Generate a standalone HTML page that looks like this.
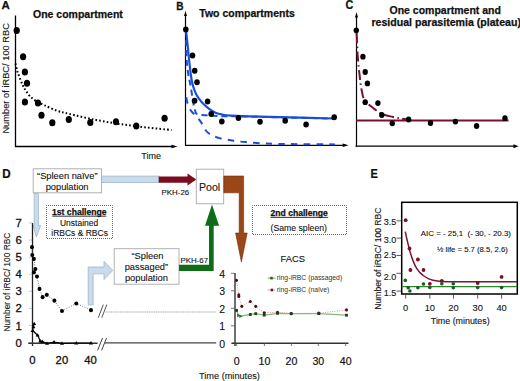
<!DOCTYPE html>
<html><head><meta charset="utf-8"><style>
html,body{margin:0;padding:0;background:#fff;width:520px;height:381px;overflow:hidden}
svg{display:block}
text{font-family:"Liberation Sans",sans-serif;fill:#111;stroke:#222;stroke-width:0.12px}
.b{font-weight:bold;stroke:#111;stroke-width:0.25px}
.h{stroke:#111;stroke-width:0.3px}
.h2{stroke:#111;stroke-width:0.18px}
.l{stroke:none;fill:#333}
</style></head><body>
<svg width="520" height="381" viewBox="0 0 520 381">
<text x="1.5" y="9" class="b" font-size="11.5">A</text>
<text x="33" y="18.2" class="b" font-size="10.5">One compartment</text>
<line x1="15.5" y1="15.5" x2="15.5" y2="147" stroke="#000" stroke-width="1.3"/>
<line x1="15" y1="146.5" x2="173" y2="146.5" stroke="#000" stroke-width="1.3"/>
<path d="M177.5,146.5 L171.5,144.8 L171.5,148.2 Z" fill="#000"/>
<text x="141.3" y="158.7" font-size="9">Time</text>
<text transform="translate(9.2,133.6) rotate(-90)" font-size="9.3">Number of iRBC/ 100 RBC</text>
<path d="M15.5,63.6 C15.8,64.8 16.5,68.5 17.1,70.7 C17.8,72.9 18.5,74.6 19.4,77.0 C20.3,79.4 21.6,82.7 22.6,84.9 C23.7,87.1 24.4,88.4 25.7,90.4 C27.0,92.4 28.6,94.9 30.4,96.7 C32.2,98.5 34.3,100.0 36.7,101.4 C39.1,102.8 41.2,103.7 44.6,105.3 C48.0,106.9 53.1,109.4 57.2,110.8 C61.3,112.2 62.8,112.3 69.0,113.8 C75.2,115.3 86.2,118.0 94.7,119.7 C103.2,121.4 111.6,122.7 120.0,124.0 C128.4,125.3 136.4,126.3 145.0,127.3 C153.6,128.3 167.1,129.6 171.5,130.0" fill="none" stroke="#000" stroke-width="2" stroke-dasharray="1.6 2.2"/>
<ellipse cx="16.7" cy="30.6" rx="3.1" ry="3.5" fill="#000"/><ellipse cx="23.1" cy="56.7" rx="3.1" ry="3.5" fill="#000"/><ellipse cx="24.9" cy="72.0" rx="3.1" ry="3.5" fill="#000"/><ellipse cx="27.0" cy="83.3" rx="3.1" ry="3.5" fill="#000"/><ellipse cx="24.9" cy="102.0" rx="3.1" ry="3.5" fill="#000"/><ellipse cx="38.0" cy="103.0" rx="3.1" ry="3.5" fill="#000"/><ellipse cx="41.5" cy="115.2" rx="3.1" ry="3.5" fill="#000"/><ellipse cx="52.3" cy="122.7" rx="3.1" ry="3.5" fill="#000"/><ellipse cx="68.8" cy="119.5" rx="3.1" ry="3.5" fill="#000"/><ellipse cx="90.3" cy="122.5" rx="3.1" ry="3.5" fill="#000"/><ellipse cx="116.0" cy="121.8" rx="3.1" ry="3.5" fill="#000"/><ellipse cx="136.3" cy="126.0" rx="3.1" ry="3.5" fill="#000"/><ellipse cx="164.6" cy="118.3" rx="3.1" ry="3.5" fill="#000"/>
<text transform="translate(176.2,10.1) scale(0.86,1)" class="b" font-size="11.8">B</text>
<text x="199.3" y="17.3" class="b" font-size="10.5">Two compartments</text>
<line x1="185.5" y1="14" x2="185.5" y2="146" stroke="#000" stroke-width="1.2"/>
<path d="M185.5,10.8 L184,16 L187,16 Z" fill="#000"/>
<line x1="185.5" y1="145.3" x2="344" y2="145.3" stroke="#000" stroke-width="1.3"/>
<path d="M348.5,145.3 L342.7,143.6 L342.7,147 Z" fill="#000"/>
<path d="M186.0,30.0 C186.2,32.0 186.9,37.8 187.3,42.0 C187.7,46.2 188.2,51.0 188.6,55.0 C189.0,59.0 189.4,62.5 189.8,66.0 C190.2,69.5 190.6,73.0 191.0,76.0 C191.4,79.0 191.9,81.7 192.5,84.0 C193.1,86.3 193.8,88.3 194.4,90.0 C195.0,91.7 195.6,93.0 196.2,94.2 C196.8,95.4 196.8,95.6 197.9,97.1 C199.0,98.6 200.6,101.0 202.5,103.0 C204.4,105.0 207.0,107.2 209.2,108.8 C211.4,110.4 213.3,111.7 215.5,112.7 C217.7,113.7 220.1,114.2 222.6,114.7 C225.1,115.2 224.2,115.3 230.4,115.6 C236.6,115.9 250.1,116.3 260.0,116.6 C269.9,116.9 277.7,117.1 290.0,117.4 C302.3,117.7 326.7,118.3 334.0,118.5" fill="none" stroke="#1a4fd6" stroke-width="2.2"/>
<path d="M186.2,40.0 C186.2,42.5 186.3,50.7 186.5,55.0 C186.7,59.3 186.8,62.4 187.2,66.0 C187.6,69.6 188.2,73.8 188.7,76.6 C189.2,79.4 189.5,80.4 190.0,83.0 C190.5,85.6 191.1,89.2 191.6,92.0 C192.1,94.8 192.4,97.4 192.8,100.0 C193.2,102.6 193.8,105.5 194.2,107.4 C194.6,109.3 195.1,110.5 195.4,111.5 C195.8,112.5 195.8,113.1 196.3,113.6 C196.8,114.1 197.5,114.1 198.5,114.3 C199.5,114.5 200.6,114.8 202.5,115.0 C204.4,115.2 207.7,115.4 210.0,115.6 C212.3,115.8 214.2,115.8 216.3,115.9 C218.4,116.0 220.2,116.2 222.6,116.2 C224.9,116.2 224.2,116.1 230.4,116.2 C236.6,116.3 250.1,116.7 260.0,116.9 C269.9,117.1 277.7,117.3 290.0,117.6 C302.3,117.9 326.7,118.4 334.0,118.6" fill="none" stroke="#1a4fd6" stroke-width="2" stroke-dasharray="6 4"/>
<path d="M186.3,97.3 C186.5,98.3 186.9,101.4 187.6,103.5 C188.3,105.6 189.1,107.8 190.3,109.7 C191.5,111.6 193.1,113.0 194.7,114.8 C196.2,116.5 198.2,118.4 199.6,120.2 C201.0,122.0 202.0,123.8 203.0,125.5 C204.0,127.2 204.6,129.0 205.8,130.5 C207.0,132.0 208.4,133.2 210.4,134.4 C212.4,135.6 214.2,136.6 218.0,137.7 C221.8,138.8 228.4,140.0 233.5,140.8 C238.6,141.6 243.7,141.9 248.8,142.3 C253.9,142.8 259.8,143.2 264.2,143.5 C268.6,143.8 270.7,143.7 275.0,143.8 C279.3,143.9 280.0,144.0 290.0,144.1 C300.0,144.2 327.5,144.3 335.0,144.4" fill="none" stroke="#1a4fd6" stroke-width="2" stroke-dasharray="6.5 6.2"/>
<ellipse cx="185.8" cy="29.6" rx="2.8" ry="3.0" fill="#000"/><ellipse cx="192.5" cy="55.4" rx="2.8" ry="3.0" fill="#000"/><ellipse cx="194.7" cy="70.7" rx="2.8" ry="3.0" fill="#000"/><ellipse cx="197.0" cy="82.3" rx="2.8" ry="3.0" fill="#000"/><ellipse cx="194.6" cy="100.8" rx="2.8" ry="3.0" fill="#000"/><ellipse cx="207.6" cy="101.6" rx="2.8" ry="3.0" fill="#000"/><ellipse cx="211.2" cy="114.1" rx="2.8" ry="3.0" fill="#000"/><ellipse cx="221.8" cy="121.6" rx="2.8" ry="3.0" fill="#000"/><ellipse cx="238.4" cy="118.1" rx="2.8" ry="3.0" fill="#000"/><ellipse cx="260.0" cy="121.8" rx="2.8" ry="3.0" fill="#000"/><ellipse cx="285.2" cy="120.8" rx="2.8" ry="3.0" fill="#000"/><ellipse cx="306.1" cy="124.5" rx="2.8" ry="3.0" fill="#000"/><ellipse cx="334.2" cy="117.2" rx="2.8" ry="3.0" fill="#000"/>
<text transform="translate(345.4,9.2) scale(0.9,1)" class="b" font-size="12">C</text>
<text x="389.5" y="13.7" class="b" font-size="10.5">One compartment and</text>
<text x="371.4" y="26" class="b" font-size="10.6">residual parasitemia (plateau)</text>
<line x1="356.5" y1="16" x2="356.5" y2="146.8" stroke="#000" stroke-width="1.2"/>
<path d="M356.5,12 L355,17.5 L358,17.5 Z" fill="#000"/>
<line x1="355.5" y1="146.2" x2="514" y2="146.2" stroke="#000" stroke-width="1.2"/>
<path d="M518.5,146.2 L513.5,144.2 L513.5,148.2 Z" fill="#000"/>
<line x1="356" y1="120.6" x2="508.5" y2="120.6" stroke="#7a1030" stroke-width="2"/>
<path d="M356.6,33.0 C356.7,35.0 357.0,41.3 357.2,45.0 C357.4,48.7 357.4,51.4 357.6,55.0 C357.9,58.6 358.4,63.3 358.7,66.8 C359.0,70.3 359.4,73.1 359.7,76.0 C360.0,78.9 360.2,81.5 360.6,84.0 C361.0,86.5 361.3,88.7 361.8,91.0 C362.3,93.3 362.6,95.7 363.4,97.6 C364.2,99.5 364.8,100.7 366.5,102.5 C368.2,104.3 371.4,106.7 373.9,108.6 C376.3,110.5 378.1,112.3 381.2,113.7 C384.3,115.1 388.9,116.0 392.3,116.8 C395.7,117.6 398.6,118.2 401.4,118.7 C404.1,119.2 407.6,119.4 408.8,119.6" fill="none" stroke="#7a1030" stroke-width="2" stroke-dasharray="10 3.5 1.5 3.5"/>
<ellipse cx="356.3" cy="30.3" rx="2.7" ry="2.9" fill="#000"/><ellipse cx="362.9" cy="56.7" rx="2.7" ry="2.9" fill="#000"/><ellipse cx="365.2" cy="72.0" rx="2.7" ry="2.9" fill="#000"/><ellipse cx="367.4" cy="83.4" rx="2.7" ry="2.9" fill="#000"/><ellipse cx="365.2" cy="102.2" rx="2.7" ry="2.9" fill="#000"/><ellipse cx="377.9" cy="103.1" rx="2.7" ry="2.9" fill="#000"/><ellipse cx="381.8" cy="115.0" rx="2.7" ry="2.9" fill="#000"/><ellipse cx="392.3" cy="123.3" rx="2.7" ry="2.9" fill="#000"/><ellipse cx="408.6" cy="119.5" rx="2.7" ry="2.9" fill="#000"/><ellipse cx="430.5" cy="123.0" rx="2.7" ry="2.9" fill="#000"/><ellipse cx="455.4" cy="121.6" rx="2.7" ry="2.9" fill="#000"/><ellipse cx="476.6" cy="126.0" rx="2.7" ry="2.9" fill="#000"/><ellipse cx="505.0" cy="118.2" rx="2.7" ry="2.9" fill="#000"/>
<text transform="translate(2.2,177.6) scale(0.93,1)" class="b" font-size="12.5">D</text>
<rect x="101.5" y="176.1" width="57.5" height="6.4" fill="#c9dcec" stroke="#a0b6cc" stroke-width="0.8"/>
<path d="M34.2,193 L38.4,193 L38.4,225.5 L40.6,225.5 L36.4,237 L33.2,225.5 L34.2,225.5 Z" fill="#c9dcec" stroke="#a0b6cc" stroke-width="0.8"/>
<path d="M158.7,176.6 L187.5,176.6 L187.5,173.5 L196.4,179.6 L187.5,185.6 L187.5,182.7 L158.7,182.7 Z" fill="#7a0c1e"/>
<text x="161.6" y="194.6" font-size="7.9" fill="#222">PKH-26</text>
<rect x="33.2" y="168.8" width="68.4" height="24" fill="#fff" stroke="#a9a9a9" stroke-width="0.9"/>
<text x="67.3" y="179.1" font-size="9.3" text-anchor="middle" fill="#222">“Spleen naïve”</text>
<text x="67.1" y="189.9" font-size="9.3" text-anchor="middle" fill="#222">population</text>
<rect x="196.3" y="169.2" width="27.4" height="34.6" fill="#fff" stroke="#a9a9a9" stroke-width="0.9"/>
<text x="199" y="190.8" font-size="10.6" fill="#222">Pool</text>
<path d="M223.8,176 L243.6,176 L243.6,233 L247.2,233 L241.4,262 L235.6,233 L239.2,233 L239.2,192.8 L223.8,192.8 Z" fill="#9a4616" stroke="#6e2c0c" stroke-width="0.6"/>
<rect x="46.5" y="205.5" width="66" height="33" fill="#fff" stroke="#666" stroke-width="1" stroke-dasharray="1 1" stroke-dashoffset="0.5"/>
<text x="79.3" y="214.6" font-size="8.6" text-anchor="middle" class="b">1st challenge</text><line x1="52.3" y1="216.2" x2="106.4" y2="216.2" stroke="#222" stroke-width="0.9"/>
<text x="79.1" y="226.1" font-size="8.5" text-anchor="middle" fill="#222">Unstained</text>
<text x="79.6" y="236.1" font-size="8.5" text-anchor="middle" fill="#222">iRBCs &amp; RBCs</text>
<rect x="252.5" y="205.5" width="94" height="29" fill="#fff" stroke="#666" stroke-width="1" stroke-dasharray="1 1" stroke-dashoffset="0.5"/>
<text x="270.5" y="215.8" font-size="8.6" class="b">2nd challenge</text><line x1="270.6" y1="217.4" x2="328.2" y2="217.4" stroke="#222" stroke-width="0.9"/>
<text x="270.5" y="231.1" font-size="8.7" fill="#222">(Same spleen)</text>
<text x="280.6" y="261.9" font-size="9.4" fill="#222">FACS</text>
<rect x="114.2" y="248.7" width="64.8" height="35.5" fill="#fff" stroke="#a9a9a9" stroke-width="0.9"/>
<text x="147.5" y="259.3" font-size="9.3" text-anchor="middle" fill="#222">“Spleen</text>
<text x="146.4" y="269.9" font-size="9.3" text-anchor="middle" fill="#222">passaged”</text>
<text x="146.4" y="280.8" font-size="9.3" text-anchor="middle" fill="#222">population</text>
<path d="M88.2,305 L88.2,267 L104,267 L104,261.3 L112.8,270.4 L104,279.5 L104,273.8 L93.1,273.8 L93.1,305 Z" fill="#c9dcec" stroke="#a0b6cc" stroke-width="0.8"/>
<path d="M179,264.7 L209,264.7 L209,225.7 L205,225.7 L212,204.4 L219.1,225.7 L213.7,225.7 L213.7,271.1 L179,271.1 Z" fill="#0f6e15"/>
<text x="180.4" y="262.6" font-size="7.9" fill="#222">PKH-67</text>
<text transform="translate(10.3,331.5) rotate(-90)" font-size="8.3" fill="#222">Number of iRBC/ 100 RBC</text>
<text x="21.8" y="346.6" font-size="11.3" text-anchor="end" class="h">0</text>
<line x1="28.9" y1="342.6" x2="32.2" y2="342.6" stroke="#bbb" stroke-width="0.8"/>
<text x="21.8" y="329.5" font-size="11.3" text-anchor="end" class="h">1</text>
<line x1="28.9" y1="325.5" x2="32.2" y2="325.5" stroke="#bbb" stroke-width="0.8"/>
<text x="21.8" y="312.4" font-size="11.3" text-anchor="end" class="h">2</text>
<line x1="28.9" y1="308.4" x2="32.2" y2="308.4" stroke="#bbb" stroke-width="0.8"/>
<text x="21.8" y="295.3" font-size="11.3" text-anchor="end" class="h">3</text>
<line x1="28.9" y1="291.3" x2="32.2" y2="291.3" stroke="#bbb" stroke-width="0.8"/>
<text x="21.8" y="278.2" font-size="11.3" text-anchor="end" class="h">4</text>
<line x1="28.9" y1="274.2" x2="32.2" y2="274.2" stroke="#bbb" stroke-width="0.8"/>
<text x="21.8" y="261.1" font-size="11.3" text-anchor="end" class="h">5</text>
<line x1="28.9" y1="257.1" x2="32.2" y2="257.1" stroke="#bbb" stroke-width="0.8"/>
<text x="21.8" y="244.0" font-size="11.3" text-anchor="end" class="h">6</text>
<line x1="28.9" y1="240.0" x2="32.2" y2="240.0" stroke="#bbb" stroke-width="0.8"/>
<text x="21.8" y="226.9" font-size="11.3" text-anchor="end" class="h">7</text>
<line x1="28.9" y1="222.9" x2="32.2" y2="222.9" stroke="#bbb" stroke-width="0.8"/>
<line x1="32.5" y1="223" x2="32.5" y2="346" stroke="#222" stroke-width="1.3"/>
<line x1="28.2" y1="343.2" x2="97.6" y2="343.2" stroke="#333" stroke-width="1.4"/>
<line x1="104.7" y1="342.8" x2="216.2" y2="342.8" stroke="#444" stroke-width="1.3"/>
<line x1="97.6" y1="350.4" x2="102.6" y2="337.9" stroke="#444" stroke-width="1"/><line x1="101.6" y1="350.4" x2="106.6" y2="337.9" stroke="#444" stroke-width="1"/>
<line x1="98.3" y1="317.7" x2="103.3" y2="304.6" stroke="#555" stroke-width="1"/><line x1="101.8" y1="317.7" x2="106.8" y2="304.6" stroke="#555" stroke-width="1"/>
<line x1="105.5" y1="312" x2="216.2" y2="312" stroke="#a8a8a8" stroke-width="1.2" stroke-dasharray="1.2 0.6"/>
<text x="32.5" y="364" font-size="11.3" text-anchor="middle" class="h">0</text>
<text x="61.9" y="364" font-size="11.3" text-anchor="middle" class="h">20</text>
<text x="90.6" y="364" font-size="11.3" text-anchor="middle" class="h">40</text>
<polyline points="32.0,247.2 32.3,255.0 33.9,258.9 35.4,269.1 33.9,272.3 37.0,276.5 39.5,288.9 42.6,297.2 46.8,294.8 54.4,300.7 62.0,311.0 76.3,303.5 91.0,310.2" fill="none" stroke="#777" stroke-width="1" stroke-dasharray="1 1.5"/>
<ellipse cx="32.0" cy="247.2" rx="2.0" ry="2.1" fill="#000"/><ellipse cx="32.3" cy="255.0" rx="2.0" ry="2.1" fill="#000"/><ellipse cx="33.9" cy="258.9" rx="2.0" ry="2.1" fill="#000"/><ellipse cx="35.4" cy="269.1" rx="2.0" ry="2.1" fill="#000"/><ellipse cx="33.9" cy="272.3" rx="2.0" ry="2.1" fill="#000"/><ellipse cx="37.0" cy="276.5" rx="2.0" ry="2.1" fill="#000"/><ellipse cx="39.5" cy="288.9" rx="2.0" ry="2.1" fill="#000"/><ellipse cx="42.6" cy="297.2" rx="2.0" ry="2.1" fill="#000"/><ellipse cx="46.8" cy="294.8" rx="2.0" ry="2.1" fill="#000"/><ellipse cx="54.4" cy="300.7" rx="2.0" ry="2.1" fill="#000"/><ellipse cx="62.0" cy="311.0" rx="2.0" ry="2.1" fill="#000"/><ellipse cx="76.3" cy="303.5" rx="2.0" ry="2.1" fill="#000"/><ellipse cx="91.0" cy="310.2" rx="2.0" ry="2.1" fill="#000"/>
<polyline points="34.2,323.7 33.4,326.8 32.6,330.5 37.6,335.2 40.2,341.0 42.3,341.5 47.0,343.4 54.0,342.0 62.0,343.4 76.3,343.0 91.0,343.0" fill="none" stroke="#000" stroke-width="1.2"/>
<path d="M34.2,321.7 l2,3.4 l-4,0 Z" fill="#000"/><path d="M33.4,324.8 l2,3.4 l-4,0 Z" fill="#000"/><path d="M32.6,328.5 l2,3.4 l-4,0 Z" fill="#000"/><path d="M37.6,333.2 l2,3.4 l-4,0 Z" fill="#000"/><path d="M40.2,339.0 l2,3.4 l-4,0 Z" fill="#000"/><path d="M42.3,339.5 l2,3.4 l-4,0 Z" fill="#000"/><path d="M47.0,341.4 l2,3.4 l-4,0 Z" fill="#000"/><path d="M54.0,340.0 l2,3.4 l-4,0 Z" fill="#000"/><path d="M62.0,341.4 l2,3.4 l-4,0 Z" fill="#000"/><path d="M76.3,341.0 l2,3.4 l-4,0 Z" fill="#000"/><path d="M91.0,341.0 l2,3.4 l-4,0 Z" fill="#000"/>
<text x="225" y="347.7" font-size="10.5" text-anchor="end" fill="#111">0</text>
<line x1="230.9" y1="343.3" x2="234.5" y2="343.3" stroke="#555" stroke-width="0.8"/>
<text x="225" y="330.2" font-size="10.5" text-anchor="end" fill="#111">1</text>
<line x1="230.9" y1="325.8" x2="234.5" y2="325.8" stroke="#555" stroke-width="0.8"/>
<text x="225" y="312.7" font-size="10.5" text-anchor="end" fill="#111">2</text>
<line x1="230.9" y1="308.3" x2="234.5" y2="308.3" stroke="#555" stroke-width="0.8"/>
<text x="225" y="295.2" font-size="10.5" text-anchor="end" fill="#111">3</text>
<line x1="230.9" y1="290.8" x2="234.5" y2="290.8" stroke="#555" stroke-width="0.8"/>
<text x="225" y="277.7" font-size="10.5" text-anchor="end" fill="#111">4</text>
<line x1="230.9" y1="273.3" x2="234.5" y2="273.3" stroke="#555" stroke-width="0.8"/>
<line x1="235" y1="272.9" x2="235" y2="346" stroke="#333" stroke-width="1.4"/>
<line x1="231.8" y1="343.3" x2="348.5" y2="343.3" stroke="#333" stroke-width="1.4"/>
<text x="236.6" y="364.5" font-size="10.6" text-anchor="middle" class="h2">0</text>
<line x1="236.6" y1="343.3" x2="236.6" y2="346" stroke="#555" stroke-width="0.8"/>
<text x="264.4" y="364.5" font-size="10.6" text-anchor="middle" class="h2">10</text>
<line x1="264.4" y1="343.3" x2="264.4" y2="346" stroke="#555" stroke-width="0.8"/>
<text x="291.4" y="364.5" font-size="10.6" text-anchor="middle" class="h2">20</text>
<line x1="291.4" y1="343.3" x2="291.4" y2="346" stroke="#555" stroke-width="0.8"/>
<text x="318.3" y="364.5" font-size="10.6" text-anchor="middle" class="h2">30</text>
<line x1="318.3" y1="343.3" x2="318.3" y2="346" stroke="#555" stroke-width="0.8"/>
<text x="345.7" y="364.5" font-size="10.6" text-anchor="middle" class="h2">40</text>
<line x1="345.7" y1="343.3" x2="345.7" y2="346" stroke="#555" stroke-width="0.8"/>
<text x="199" y="378.6" font-size="9.2" fill="#222">Time (minutes)</text>
<line x1="267.7" y1="278.1" x2="275.4" y2="278.1" stroke="#3a9a3a" stroke-width="0.8"/>
<rect x="270.2" y="276.8" width="2.6" height="2.6" fill="#1a6a1a"/>
<text x="276.8" y="280.1" font-size="6.8" class="l">ring-iRBC (passaged)</text>
<line x1="267.7" y1="290" x2="275.4" y2="290" stroke="#b04050" stroke-width="0.8" stroke-dasharray="1 1"/>
<rect x="270.6" y="288.7" width="2.6" height="2.6" fill="#7a1020"/>
<text x="276.8" y="292.1" font-size="6.8" class="l">ring-iRBC (naïve)</text>
<polyline points="236.5,280.3 238.8,294.8 238.8,296.5 241.8,306.3 250.3,301.5 255.7,306.3 264.2,312.8 277.5,312.3 291.2,313.6 318.8,313.2 346.5,309.9" fill="none" stroke="#d88090" stroke-width="0.9" stroke-dasharray="1 1.4"/>
<polyline points="236.5,310.4 238.8,315.5 241.0,316.2 250.3,314.5 255.7,313.7 264.2,315.1 277.5,313.3 291.2,313.7 318.8,313.6 346.5,315.2" fill="none" stroke="#88b880" stroke-width="1.3"/>
<ellipse cx="236.5" cy="280.3" rx="1.5" ry="1.6" fill="#4a0a18"/><ellipse cx="238.8" cy="294.8" rx="1.5" ry="1.6" fill="#4a0a18"/><ellipse cx="238.8" cy="296.5" rx="1.5" ry="1.6" fill="#4a0a18"/><ellipse cx="241.8" cy="306.3" rx="1.5" ry="1.6" fill="#4a0a18"/><ellipse cx="250.3" cy="301.5" rx="1.5" ry="1.6" fill="#4a0a18"/><ellipse cx="255.7" cy="306.3" rx="1.5" ry="1.6" fill="#4a0a18"/><ellipse cx="264.2" cy="312.8" rx="1.5" ry="1.6" fill="#4a0a18"/><ellipse cx="277.5" cy="312.3" rx="1.5" ry="1.6" fill="#4a0a18"/><ellipse cx="291.2" cy="313.6" rx="1.5" ry="1.6" fill="#4a0a18"/><ellipse cx="318.8" cy="313.2" rx="1.5" ry="1.6" fill="#4a0a18"/><ellipse cx="346.5" cy="309.9" rx="1.5" ry="1.6" fill="#4a0a18"/>
<rect x="235.1" y="309.0" width="2.8" height="2.8" fill="#1e3e20"/><rect x="248.9" y="313.1" width="2.8" height="2.8" fill="#1e3e20"/><rect x="254.3" y="312.3" width="2.8" height="2.8" fill="#1e3e20"/><rect x="262.8" y="313.7" width="2.8" height="2.8" fill="#1e3e20"/><rect x="276.1" y="311.9" width="2.8" height="2.8" fill="#1e3e20"/><rect x="289.8" y="312.3" width="2.8" height="2.8" fill="#1e3e20"/><rect x="317.4" y="312.2" width="2.8" height="2.8" fill="#1e3e20"/><rect x="345.1" y="313.8" width="2.8" height="2.8" fill="#1e3e20"/>
<path d="M237.1,313.7 l3.4,1.8 l-3.4,1.8 Z" fill="#1a7a1a"/><path d="M239.3,314.4 l3.4,1.8 l-3.4,1.8 Z" fill="#1a7a1a"/>
<text transform="translate(370.6,177.9) scale(0.88,1)" class="b" font-size="12.5">E</text>
<rect x="401.7" y="202.3" width="115.6" height="91.7" fill="none" stroke="#000" stroke-width="1.5"/>
<text transform="translate(381,309.7) rotate(-90)" font-size="8.6" fill="#222">Number of iRBC/ 100 RBC</text>
<text x="396.2" y="224.7" font-size="9" text-anchor="end" fill="#222">3.5</text>
<line x1="396.5" y1="220.8" x2="401.7" y2="220.8" stroke="#333" stroke-width="0.8"/>
<text x="396.2" y="243.1" font-size="9" text-anchor="end" fill="#222">3.0</text>
<line x1="396.5" y1="238.1" x2="401.7" y2="238.1" stroke="#333" stroke-width="0.8"/>
<text x="396.2" y="257.9" font-size="9" text-anchor="end" fill="#222">2.5</text>
<line x1="396.5" y1="255.5" x2="401.7" y2="255.5" stroke="#333" stroke-width="0.8"/>
<text x="396.2" y="279.5" font-size="9" text-anchor="end" fill="#222">2.0</text>
<line x1="396.5" y1="273.3" x2="401.7" y2="273.3" stroke="#333" stroke-width="0.8"/>
<text x="396.2" y="295.6" font-size="9" text-anchor="end" fill="#222">1.5</text>
<line x1="396.5" y1="291.1" x2="401.7" y2="291.1" stroke="#333" stroke-width="0.8"/>
<text x="405.7" y="310.8" font-size="9.3" text-anchor="middle" fill="#222">0</text>
<line x1="405.7" y1="294" x2="405.7" y2="298.6" stroke="#333" stroke-width="0.8"/>
<text x="429.8" y="310.8" font-size="9.3" text-anchor="middle" fill="#222">10</text>
<line x1="429.8" y1="294" x2="429.8" y2="298.6" stroke="#333" stroke-width="0.8"/>
<text x="453.5" y="310.8" font-size="9.3" text-anchor="middle" fill="#222">20</text>
<line x1="453.5" y1="294" x2="453.5" y2="298.6" stroke="#333" stroke-width="0.8"/>
<text x="477.7" y="310.8" font-size="9.3" text-anchor="middle" fill="#222">30</text>
<line x1="477.7" y1="294" x2="477.7" y2="298.6" stroke="#333" stroke-width="0.8"/>
<text x="501.6" y="310.8" font-size="9.3" text-anchor="middle" fill="#222">40</text>
<line x1="501.6" y1="294" x2="501.6" y2="298.6" stroke="#333" stroke-width="0.8"/>
<text x="430.8" y="324.3" font-size="8.9" fill="#222">Time (minutes)</text>
<text x="420.8" y="236" font-size="7.9" fill="#222">AIC = - 25,1  (- 30, - 20.3)</text>
<text x="437" y="252.4" font-size="7.7" fill="#222">½ life = 5.7 (8.5, 2.6)</text>
<line x1="402" y1="286.6" x2="517" y2="286.6" stroke="#2a8a2a" stroke-width="1.3"/>
<path d="M405.3,231.7 C405.6,233.1 406.4,237.1 407.1,240.0 C407.8,242.9 408.6,246.6 409.4,249.4 C410.1,252.2 410.8,254.4 411.6,256.8 C412.4,259.2 413.3,261.6 414.2,263.6 C415.1,265.6 415.9,267.2 417.0,268.8 C418.1,270.4 419.3,271.9 420.5,273.1 C421.7,274.3 422.7,275.1 424.0,276.0 C425.3,276.9 426.8,277.9 428.3,278.6 C429.8,279.3 431.1,279.9 433.0,280.3 C434.9,280.8 436.9,281.1 439.4,281.3 C441.9,281.5 435.1,281.6 448.0,281.7 C460.9,281.8 505.5,281.7 517.0,281.7" fill="none" stroke="#7a1535" stroke-width="1.5"/>
<ellipse cx="405.7" cy="220.2" rx="1.9" ry="1.9" fill="#7a1020"/><ellipse cx="409.5" cy="248.5" rx="1.9" ry="1.9" fill="#7a1020"/><ellipse cx="417.9" cy="259.5" rx="1.9" ry="1.9" fill="#7a1020"/><ellipse cx="410.4" cy="270.0" rx="1.9" ry="1.9" fill="#7a1020"/><ellipse cx="423.5" cy="270.0" rx="1.9" ry="1.9" fill="#7a1020"/><ellipse cx="429.8" cy="283.8" rx="1.9" ry="1.9" fill="#7a1020"/><ellipse cx="441.8" cy="280.8" rx="1.9" ry="1.9" fill="#7a1020"/><ellipse cx="477.7" cy="283.0" rx="1.9" ry="1.9" fill="#7a1020"/><ellipse cx="501.6" cy="276.9" rx="1.9" ry="1.9" fill="#7a1020"/>
<ellipse cx="405.3" cy="280.4" rx="1.8" ry="1.8" fill="#1e5a28"/><ellipse cx="408.2" cy="287.8" rx="1.8" ry="1.8" fill="#1e5a28"/><ellipse cx="409.9" cy="291.0" rx="1.8" ry="1.8" fill="#1e5a28"/><ellipse cx="417.9" cy="287.8" rx="1.8" ry="1.8" fill="#1e5a28"/><ellipse cx="423.5" cy="284.0" rx="1.8" ry="1.8" fill="#1e5a28"/><ellipse cx="429.8" cy="287.5" rx="1.8" ry="1.8" fill="#1e5a28"/><ellipse cx="441.8" cy="283.8" rx="1.8" ry="1.8" fill="#1e5a28"/><ellipse cx="453.3" cy="283.8" rx="1.8" ry="1.8" fill="#1e5a28"/><ellipse cx="453.3" cy="287.8" rx="1.8" ry="1.8" fill="#1e5a28"/><ellipse cx="477.7" cy="287.6" rx="1.8" ry="1.8" fill="#1e5a28"/><ellipse cx="501.6" cy="287.6" rx="1.8" ry="1.8" fill="#1e5a28"/>
</svg>
</body></html>
